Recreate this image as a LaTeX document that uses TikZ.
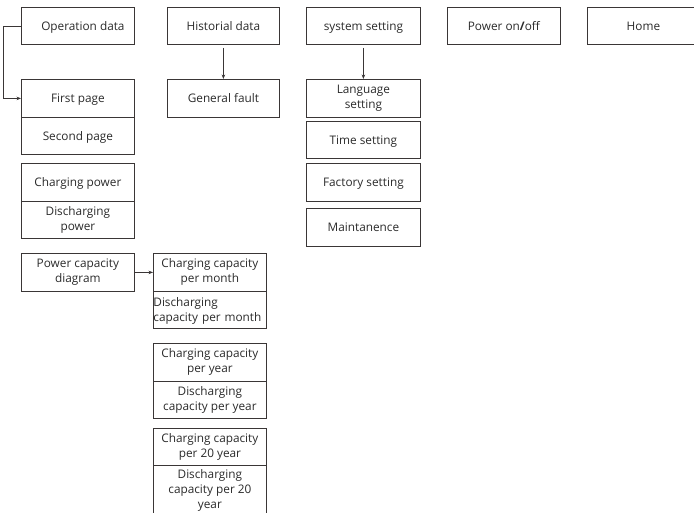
\documentclass[tikz,border=0pt]{standalone}
\usepackage{fontspec}
\setmainfont{Open Sans}
\usetikzlibrary{arrows.meta}
\definecolor{ink}{HTML}{3A3636}
\definecolor{txt}{HTML}{2A2A2A}
\tikzset{
  bx/.style={draw=ink, line width=0.8pt, anchor=north west, align=center, inner sep=1pt,
    text=txt, font=\fontsize{11.8}{15}\selectfont,
    execute at begin node=\rule{0pt}{12pt},
    execute at end node=\rule[-3.5pt]{0pt}{0pt}},
  conn/.style={draw=ink, line width=0.7pt, -{Stealth[length=4.5pt,width=3.5pt]}}
}
\begin{document}
\begin{tikzpicture}[x=1pt,y=-1pt]
\useasboundingbox (0,0) rectangle (694,512);
% top row
\node[bx, minimum width=113pt, minimum height=37pt] (op) at (21,7) {\hspace*{10pt}Operation data};
\node[bx, minimum width=112pt, minimum height=37pt] (hist) at (167,7) {Historial data};
\node[bx, minimum width=114pt, minimum height=37pt] (sys) at (306,7) {system setting};
\node[bx, minimum width=113pt, minimum height=37pt] (pwr) at (447,7) {Power on\textbf{/}off};
\node[bx, minimum width=112pt, minimum height=37pt] (home) at (587,7) {Home};
% operation data column
\node[bx, minimum width=113pt, minimum height=38pt] (fp) at (21,79) {First page};
\node[bx, minimum width=113pt, minimum height=37pt] (sp) at (21,117) {Second page};
\node[bx, minimum width=113pt, minimum height=38pt] (cp) at (21,163) {Charging power};
\node[bx, minimum width=113pt, minimum height=37pt] (dp) at (21,201) {Discharging\\power};
\node[bx, minimum width=113pt, minimum height=38pt] (pcd) at (21,253) {Power capacity\\diagram};
% historial
\node[bx, minimum width=112pt, minimum height=38pt] (gf) at (167,79) {General fault};
% system setting column
\node[bx, minimum width=114pt, minimum height=38pt] (lang) at (306,79) {Language\\setting};
\node[bx, minimum width=114pt, minimum height=37pt] (time) at (306,121) {Time setting};
\node[bx, minimum width=114pt, minimum height=38pt] (fact) at (306,163) {Factory setting};
\node[bx, minimum width=114pt, minimum height=38pt] (maint) at (306,208) {Maintanence};
% capacity column
\node[bx, minimum width=113pt, minimum height=38pt] (cm) at (153,253) {Charging capacity\\per month};
\node[bx, minimum width=113pt, minimum height=37pt, align=left, inner sep=0pt, text width=113pt] (dm) at (153,291) {Discharging\\capacity per month};
\node[bx, minimum width=113pt, minimum height=38pt] (cy) at (153,343) {Charging capacity\\per year};
\node[bx, minimum width=113pt, minimum height=37pt] (dy) at (153,381) {Discharging\\capacity per year};
\node[bx, minimum width=113pt, minimum height=37pt] (c20) at (153,428) {Charging capacity\\per 20 year};
\node[bx, minimum width=113pt, minimum height=50pt] (d20) at (153,465) {Discharging\\capacity per 20\\year};
% connectors
\draw[conn] (op.west) -- ++(-18,0) |- (fp.west);
\draw[conn, shorten <=3pt] (hist.south) -- (gf.north);
\draw[conn, shorten <=3pt] (sys.south) -- (lang.north);
\draw[conn] (pcd.east) -- (cm.west);
\end{tikzpicture}
\end{document}
